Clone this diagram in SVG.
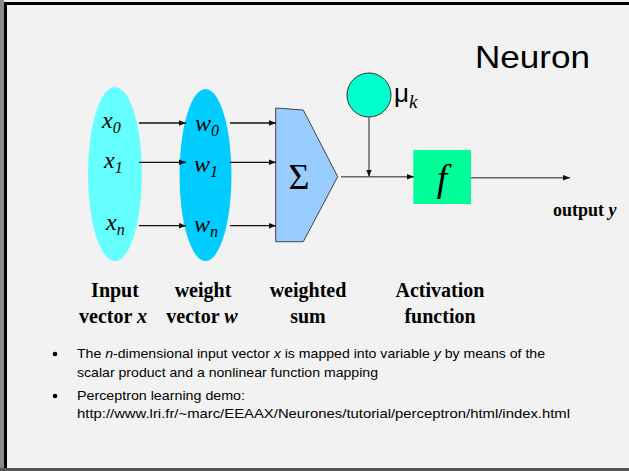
<svg xmlns="http://www.w3.org/2000/svg" width="629" height="471" viewBox="0 0 629 471">
<style>
.math{font-family:"Liberation Serif","Times New Roman",serif;font-style:italic;font-size:24px;fill:#000}
.lab{font-family:"Liberation Serif","Times New Roman",serif;font-weight:bold;font-size:20px;fill:#000;text-anchor:middle}
.body{font-family:"Liberation Sans",Arial,sans-serif;font-size:13.5px;fill:#000}
.ln{stroke:#111;stroke-width:1.3;fill:none}
.ln2{stroke:#666;stroke-width:1.5;fill:none}
</style>
<defs>
<marker id="ah" viewBox="0 0 10 10" refX="10" refY="5" markerWidth="7" markerHeight="7" markerUnits="userSpaceOnUse" orient="auto">
<path d="M0,1 L10,5 L0,9 Z" fill="#111"/>
</marker>
</defs>
<rect x="0" y="0" width="629" height="471" fill="#f2f2f2"/>
<rect x="0" y="0" width="4" height="471" fill="#8a8a8a"/>
<rect x="4" y="2" width="3" height="467" fill="#000"/>
<rect x="4" y="2" width="625" height="3" fill="#000"/>
<rect x="0" y="468" width="629" height="3" fill="#555"/>

<text x="475" y="68" font-family="Liberation Sans,Arial,sans-serif" font-size="32" textLength="115" lengthAdjust="spacingAndGlyphs">Neuron</text>

<g id="input-vector">
<ellipse cx="115" cy="174" rx="27" ry="87" fill="#66ffff"/>
<text class="math" x="102" y="128">x<tspan font-size="16" dy="5">0</tspan></text>
<text class="math" x="104" y="168">x<tspan font-size="16" dy="5">1</tspan></text>
<text class="math" x="106" y="230">x<tspan font-size="16" dy="5">n</tspan></text>
</g>
<g id="weight-vector">
<ellipse cx="205.5" cy="175" rx="26" ry="86" fill="#00ccff"/>
<text class="math" x="195" y="131">w<tspan font-size="16" dy="5">0</tspan></text>
<text class="math" x="194" y="172">w<tspan font-size="16" dy="5">1</tspan></text>
<text class="math" x="194" y="232">w<tspan font-size="16" dy="5">n</tspan></text>
</g>
<g id="weighted-sum">
<path d="M275.7,108 L303.3,110 L337.7,176.7 L303.3,241.7 L275.7,241.7 Z" fill="#99ccff" stroke="#444" stroke-width="1"/>
<text x="299" y="189" font-family="Liberation Serif,Times New Roman,serif" font-size="36" text-anchor="middle">Σ</text>
</g>
<g id="bias">
<circle cx="369" cy="95" r="22" fill="#00ffcc" stroke="#333" stroke-width="1"/>
<text x="394" y="102" font-family="Liberation Sans,Arial,sans-serif" font-size="26">μ<tspan font-family="Liberation Serif,Times New Roman,serif" font-style="italic" font-size="19" dy="6">k</tspan></text>
</g>
<g id="activation">
<rect x="413.3" y="150" width="57.7" height="54" fill="#00ff99"/>
<text x="442" y="191" font-family="Liberation Serif,Times New Roman,serif" font-style="italic" font-size="38" text-anchor="middle">f</text>
</g>
<g id="output">
<text x="553" y="216" font-family="Liberation Serif,Times New Roman,serif" font-weight="bold" font-size="18">output <tspan font-style="italic">y</tspan></text>
</g>

<g id="connectors">
<line class="ln" x1="139" y1="123" x2="186" y2="123" marker-end="url(#ah)"/>
<line class="ln" x1="139" y1="162.3" x2="186" y2="162.3" marker-end="url(#ah)"/>
<line class="ln" x1="139" y1="225.7" x2="186" y2="225.7" marker-end="url(#ah)"/>
<line class="ln" x1="230" y1="123" x2="276" y2="123" marker-end="url(#ah)"/>
<line class="ln" x1="230" y1="162.3" x2="276" y2="162.3" marker-end="url(#ah)"/>
<line class="ln" x1="230" y1="225.7" x2="276" y2="225.7" marker-end="url(#ah)"/>
<line class="ln2" x1="341" y1="176.7" x2="414" y2="176.7" marker-end="url(#ah)"/>
<line class="ln2" x1="369" y1="117" x2="369" y2="176.7" marker-end="url(#ah)"/>
<line class="ln2" x1="471" y1="177.7" x2="570" y2="177.7" marker-end="url(#ah)"/>
</g>

<g id="labels">
<text class="lab" x="115" y="297">Input</text>
<text class="lab" x="113" y="323">vector <tspan font-style="italic">x</tspan></text>
<text class="lab" x="203" y="297">weight</text>
<text class="lab" x="202" y="323">vector <tspan font-style="italic">w</tspan></text>
<text class="lab" x="308" y="297">weighted</text>
<text class="lab" x="308" y="323">sum</text>
<text class="lab" x="440" y="297">Activation</text>
<text class="lab" x="440" y="323">function</text>
</g>

<g id="bullets">
<circle cx="55" cy="354" r="2.3" fill="#000"/>
<circle cx="55" cy="396" r="2.3" fill="#000"/>
<text class="body" x="77" y="358" textLength="468" lengthAdjust="spacingAndGlyphs">The <tspan font-style="italic">n</tspan>-dimensional input vector <tspan font-style="italic">x</tspan> is mapped into  variable <tspan font-style="italic">y</tspan> by means of the</text>
<text class="body" x="77" y="377" textLength="301" lengthAdjust="spacingAndGlyphs">scalar product and a nonlinear function mapping</text>
<text class="body" x="77" y="400" textLength="168" lengthAdjust="spacingAndGlyphs">Perceptron learning demo:</text>
<text class="body" x="77" y="418" textLength="493" lengthAdjust="spacingAndGlyphs">http://www.lri.fr/~marc/EEAAX/Neurones/tutorial/perceptron/html/index.html</text>
</g>
</svg>
